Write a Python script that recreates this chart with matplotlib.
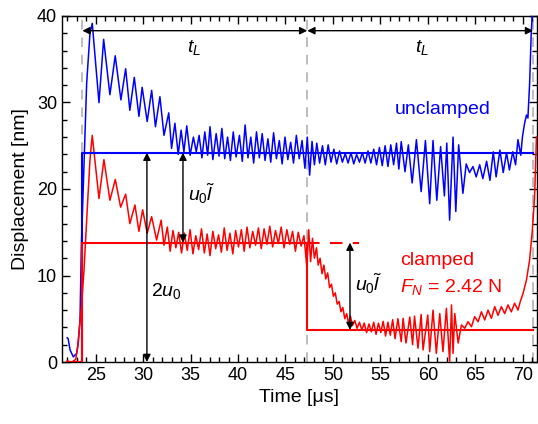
import matplotlib
matplotlib.use("Agg")
import matplotlib.pyplot as plt
from matplotlib.ticker import MultipleLocator

plt.rcParams.update({"font.family": "Liberation Sans", "font.size": 12,
                     "mathtext.fontset": "custom",
                     "mathtext.rm": "Liberation Sans",
                     "mathtext.it": "Liberation Sans:italic"})

blue_t = [22.0, 22.1, 22.3, 22.64, 23.0, 23.17, 23.35, 23.5, 23.75, 24.05,
          24.4, 24.64, 25.35, 25.84, 26.5, 27.06, 27.66, 28.16, 28.6, 29.07,
          29.56, 29.9, 30.43, 30.9, 31.3, 31.77, 32.2, 32.7,
          33.0, 33.35, 33.7, 34.0, 34.3, 34.6, 34.95, 35.3, 35.6, 35.9,
          36.2, 36.5, 36.8, 37.05, 37.35, 37.7, 38.0, 38.3, 38.6, 38.9,
          39.2, 39.5, 39.8, 40.15, 40.45, 40.75, 41.05, 41.35, 41.65, 41.95,
          42.25, 42.55, 42.85, 43.15, 43.45, 43.75, 44.05, 44.35, 44.65, 44.95,
          45.25, 45.55, 45.85, 46.15, 46.45, 46.75, 47.05, 47.3, 47.55, 47.8,
          48.05, 48.3, 48.6, 48.9, 49.2, 49.5, 49.8, 50.1, 50.4, 50.7,
          51.0, 51.3, 51.6, 51.9, 52.2, 52.5, 52.8, 53.1, 53.4, 53.7,
          54.0, 54.3, 54.6, 54.9, 55.2, 55.5, 55.8, 56.1, 56.4, 56.7,
          56.95, 57.2, 57.6, 57.95, 58.35, 58.8, 59.3, 59.75, 60.2, 60.55,
          60.95, 61.35, 61.75, 62.0, 62.3, 62.66, 62.95, 63.25, 63.7, 64.05,
          64.4, 64.76, 65.1, 65.47, 65.8, 66.2, 66.55, 66.9, 67.2, 67.6,
          67.95, 68.3, 68.6, 68.95, 69.25, 69.5, 69.8, 69.97, 70.2, 70.4,
          70.55, 70.73, 70.9, 71.0]
blue_y = [2.8, 2.7, 1.4, 0.6, 1.0, 2.2, 4.9, 13.7, 22.0, 32.2,
          38.0, 39.15, 29.98, 37.3, 30.9, 35.4, 30.3, 33.9, 29.1, 32.9,
          28.4, 31.75, 27.8, 31.4, 27.2, 30.67, 26.2, 28.8,
          24.7, 27.6, 24.0, 26.8, 24.3, 27.3, 23.9, 26.0, 24.3, 26.2,
          23.6, 26.6, 23.9, 27.2, 23.4, 26.4, 23.8, 27.0, 23.5, 26.0,
          23.3, 26.6, 23.7, 26.2, 23.2, 27.4, 23.6, 26.0, 23.0, 26.6,
          23.6, 26.4, 23.3, 25.8, 23.1, 26.5, 23.5, 25.6, 22.9, 26.0,
          23.4, 25.4, 23.0, 26.2, 23.5, 25.6, 22.4, 26.0, 21.6, 25.5,
          22.8, 25.3, 23.0, 25.0, 22.8, 25.1, 23.1, 24.6, 22.9, 24.4,
          23.1, 24.1, 23.0, 24.2, 22.9, 24.0, 23.1, 24.2, 23.0, 24.4,
          23.0, 24.6, 22.8, 24.8, 22.7, 25.0, 22.6, 25.1, 22.8, 25.3,
          22.3, 25.47, 22.0, 25.1, 20.7, 25.7, 19.7, 25.6, 18.3, 25.6,
          18.7, 24.9, 19.2, 25.3, 16.4, 26.0, 17.4, 25.1, 19.5, 22.9,
          21.9, 22.6, 21.4, 22.8, 21.2, 23.2, 21.0, 24.3, 21.4, 24.5,
          21.9, 24.2, 22.2, 24.3, 22.8, 25.7, 23.9, 26.0, 27.6, 28.55,
          28.2, 32.2, 38.0, 40.1]

red_t = [22.0, 22.5, 22.9, 23.1, 23.5, 23.77, 24.05, 24.4, 24.64, 25.35,
         25.87, 26.5, 27.07, 27.63, 28.16, 28.6, 29.14, 29.56, 29.95, 30.43,
         30.9, 31.42, 31.9, 32.2,
         32.55, 32.85, 33.15, 33.45, 33.75, 34.05, 34.35, 34.65, 34.95, 35.25,
         35.55, 35.85, 36.15, 36.45, 36.75, 37.05, 37.35, 37.65, 37.95, 38.25,
         38.55, 38.85, 39.15, 39.45, 39.75, 40.05, 40.35, 40.65, 40.95, 41.25,
         41.55, 41.85, 42.15, 42.45, 42.75, 43.05, 43.35, 43.65, 43.95, 44.25,
         44.55, 44.85, 45.15, 45.45, 45.75, 46.05, 46.35, 46.65, 46.95, 47.25,
         47.45, 47.65, 47.85, 48.05, 48.27, 48.45, 48.65, 48.85, 49.05, 49.25,
         49.45, 49.65, 49.85, 50.05, 50.25, 50.45, 50.65, 50.85, 51.05, 51.25,
         51.45, 51.65, 51.85, 52.05, 52.3, 52.55, 52.8, 53.05, 53.3, 53.55,
         53.8, 54.05, 54.3, 54.55, 54.8, 55.05, 55.3, 55.55, 55.8, 56.05,
         56.3, 56.55, 56.85, 57.2, 57.4, 57.7, 58.1, 58.4, 58.6, 58.97,
         59.3, 59.5, 60.0, 60.2, 60.55, 60.9, 61.26, 61.6, 61.96, 62.3,
         62.5, 62.66, 62.84, 63.2, 63.54, 63.89, 64.24, 64.6, 64.94, 65.3,
         65.65, 66.0, 66.35, 66.7, 67.05, 67.4, 67.75, 68.1, 68.45, 68.8,
         69.15, 69.5, 69.75, 70.03, 70.4, 70.73, 71.0, 71.25, 71.45]
red_y = [0.1, 0.0, 0.3, 1.8, 6.4, 10.6, 16.4, 23.4, 26.2, 18.9,
         23.4, 18.7, 21.1, 17.9, 19.4, 16.0, 18.15, 15.1, 17.6, 14.9,
         16.8, 14.1, 16.4, 13.5,
         15.6, 12.8, 15.2, 13.2, 15.0, 12.6, 14.9, 12.9, 15.3, 12.5,
         14.6, 13.0, 15.4, 12.6, 14.8, 12.3, 15.1, 13.1, 14.7, 12.7,
         15.5, 12.9, 14.9, 12.5, 15.2, 13.3, 15.3, 12.8, 15.6, 13.2,
         15.1, 13.5, 15.5, 13.1, 15.4, 13.6, 15.7, 13.3, 15.2, 13.7,
         15.6, 13.2, 15.3, 13.6, 15.1, 12.8, 15.0, 13.4, 14.6, 11.0,
         15.3, 11.6, 14.3, 12.0, 13.2, 11.2, 12.0, 10.2, 11.2, 9.6,
         10.3, 8.6, 9.0, 7.6, 8.0, 6.7, 7.0, 5.8, 6.3, 5.0,
         5.6, 4.5, 5.3, 4.2, 4.8, 3.9, 4.6, 3.7, 4.5, 3.4,
         4.4, 3.5, 4.6, 3.2, 4.5, 3.4, 4.7, 3.0, 4.6, 3.1,
         4.9, 2.7, 5.0, 2.35, 5.05, 2.2, 5.2, 2.0, 5.3, 1.6,
         5.5, 1.4, 5.43, 1.19, 6.0, 1.0, 5.6, 1.2, 6.2, 0.03,
         6.6, 1.0, 5.6, 2.2, 4.28, 3.9, 4.66, 4.08, 5.24, 4.66,
         5.8, 4.86, 6.0, 5.05, 6.4, 5.4, 6.4, 5.6, 6.6, 5.8,
         6.8, 6.0, 7.0, 7.9, 9.5, 11.8, 15.0, 19.0, 26.0]

# model step levels
t_start, t_reflect, t_end = 23.6, 47.3, 71.1
t_low = 22.0
u_unclamped, u_clamped, u_after = 24.2, 13.8, 3.7
t_dash_end = 52.8
arrow_2u0_t, arrow_ul1_t, arrow_ul2_t = 30.4, 34.2, 51.8
tl_y = 38.3

fig = plt.figure(figsize=(5.38, 4.24), dpi=100)
ax = fig.add_axes([0.1152, 0.1462, 0.8828, 0.8161])

for t in (t_start, t_reflect, t_end):
    ax.axvline(t, color="#bdbdbd", lw=1.4, ls=(0, (5, 4)), zorder=1)

ax.plot(blue_t, blue_y, color="#0000ff", lw=1.1, zorder=3)
ax.plot(red_t, red_y, color="#ff0000", lw=1.1, zorder=3)

ax.plot([t_low, t_start, t_start, t_end], [0, 0, u_unclamped, u_unclamped],
        color="#0000ff", lw=1.5, zorder=4)
ax.plot([t_low, t_start, t_start, t_reflect, t_reflect, t_end],
        [0, 0, u_clamped, u_clamped, u_after, u_after],
        color="#ff0000", lw=1.5, zorder=4)
ax.plot([t_reflect, t_dash_end], [u_clamped, u_clamped], color="#ff0000",
        lw=1.5, ls=(0, (6, 5)), zorder=4)

arrow = dict(arrowstyle="<|-|>", color="black", lw=1.0, mutation_scale=11,
             shrinkA=0, shrinkB=0)
for x, y0, y1 in ((arrow_2u0_t, u_unclamped, 0),
                  (arrow_ul1_t, u_unclamped, u_clamped),
                  (arrow_ul2_t, u_clamped, u_after)):
    ax.annotate("", xy=(x, y1), xytext=(x, y0), arrowprops=arrow, zorder=5)
ax.annotate("", xy=(t_start, tl_y), xytext=(t_reflect, tl_y),
            arrowprops=arrow, zorder=5)
ax.annotate("", xy=(t_reflect, tl_y), xytext=(t_end, tl_y),
            arrowprops=arrow, zorder=5)

ax.text(35.4, 36.3, r"$t_L$", fontsize=14, ha="center", va="center")
ax.text(59.4, 36.3, r"$t_L$", fontsize=14, ha="center", va="center")
ax.text(34.7, 19.4, r"$u_0\tilde{l}$", fontsize=14, ha="left", va="center")
ax.text(52.3, 9.0, r"$u_0\tilde{l}$", fontsize=14, ha="left", va="center")
ax.text(30.8, 8.2, r"$2u_0$", fontsize=14, ha="left", va="center")
ax.text(61.6, 29.2, "unclamped", color="#0000ff", fontsize=14,
        ha="center", va="center")
ax.text(57.1, 11.7, "clamped", color="#ff0000", fontsize=14,
        ha="left", va="center")
ax.text(57.1, 8.7, r"$F_N$ = 2.42 N", color="#ff0000", fontsize=14,
        ha="left", va="center")

ax.set_xlim(21.45, 71.5)
ax.set_ylim(0, 40)
ax.xaxis.set_major_locator(MultipleLocator(5))
ax.xaxis.set_minor_locator(MultipleLocator(1))
ax.yaxis.set_major_locator(MultipleLocator(10))
ax.yaxis.set_minor_locator(MultipleLocator(2))
ax.tick_params(which="both", direction="in", top=True, right=True,
               labelsize=13, width=1.0)
ax.tick_params(which="major", length=6)
ax.tick_params(which="minor", length=3.5)
for s in ax.spines.values():
    s.set_linewidth(1.0)
ax.set_xlabel("Time [\u03bcs]", fontsize=14, labelpad=4)
ax.set_ylabel("Displacement [nm]", fontsize=14, labelpad=6)

fig.savefig("out.png", dpi=100)
